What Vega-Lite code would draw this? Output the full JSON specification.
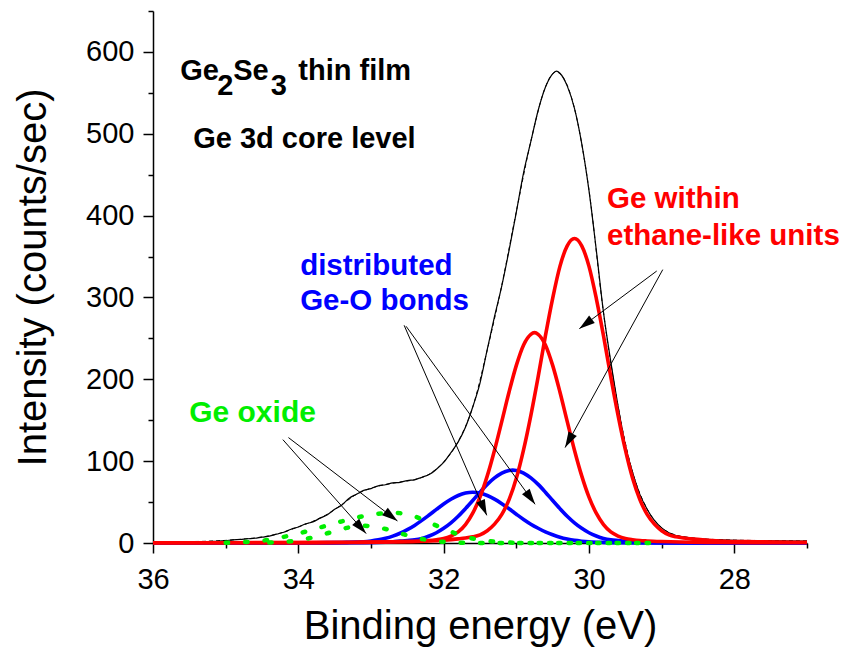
{
  "$schema": "https://vega.github.io/schema/vega-lite/v6.json",
  "width": 654,
  "height": 532,
  "autosize": {"type": "none"},
  "padding": {"left": 153, "top": 11, "right": 43, "bottom": 111},
  "background": "white",
  "config": {
    "view": {"stroke": null},
    "axis": {"grid": false, "domainColor": "black", "domainWidth": 1.5, "tickColor": "black", "tickWidth": 1.5, "labelColor": "black", "titleColor": "black", "labelFont": "Liberation Sans", "titleFont": "Liberation Sans", "titleFontWeight": "normal", "labelFlush": false, "labelOverlap": false}
  },
  "datasets": {
    "curves": [
      {"s": "R1", "E": 36, "I": 0.3}, {"s": "R1", "E": 34, "I": 0.5}, {"s": "R1", "E": 33.2, "I": 1}, {"s": "R1", "E": 32.7, "I": 1.5}, {"s": "R1", "E": 32.2, "I": 2.5}, {"s": "R1", "E": 32.0, "I": 3.5}, {"s": "R1", "E": 31.8, "I": 5}, {"s": "R1", "E": 31.7, "I": 6}, {"s": "R1", "E": 31.6, "I": 7.5}, {"s": "R1", "E": 31.5, "I": 10}, {"s": "R1", "E": 31.4, "I": 15}, {"s": "R1", "E": 31.3, "I": 23}, {"s": "R1", "E": 31.2, "I": 35}, {"s": "R1", "E": 31.1, "I": 53}, {"s": "R1", "E": 31.0, "I": 79}, {"s": "R1", "E": 30.9, "I": 114}, {"s": "R1", "E": 30.8, "I": 156}, {"s": "R1", "E": 30.7, "I": 203}, {"s": "R1", "E": 30.6, "I": 253}, {"s": "R1", "E": 30.5, "I": 299}, {"s": "R1", "E": 30.4, "I": 338}, {"s": "R1", "E": 30.3, "I": 363}, {"s": "R1", "E": 30.2, "I": 372}, {"s": "R1", "E": 30.1, "I": 363}, {"s": "R1", "E": 30.0, "I": 338}, {"s": "R1", "E": 29.9, "I": 299}, {"s": "R1", "E": 29.8, "I": 253}, {"s": "R1", "E": 29.7, "I": 203}, {"s": "R1", "E": 29.6, "I": 156}, {"s": "R1", "E": 29.5, "I": 114}, {"s": "R1", "E": 29.4, "I": 79}, {"s": "R1", "E": 29.3, "I": 53}, {"s": "R1", "E": 29.2, "I": 35}, {"s": "R1", "E": 29.1, "I": 23}, {"s": "R1", "E": 29.0, "I": 15}, {"s": "R1", "E": 28.9, "I": 10}, {"s": "R1", "E": 28.8, "I": 7.5}, {"s": "R1", "E": 28.7, "I": 6}, {"s": "R1", "E": 28.6, "I": 5}, {"s": "R1", "E": 28.4, "I": 3.5}, {"s": "R1", "E": 28.2, "I": 2.5}, {"s": "R1", "E": 27.7, "I": 1.5}, {"s": "R1", "E": 27.2, "I": 1}, {"s": "R1", "E": 27, "I": 0.9},

      {"s": "R2", "E": 36, "I": 0.2}, {"s": "R2", "E": 33.75, "I": 0.4}, {"s": "R2", "E": 33.25, "I": 0.7}, {"s": "R2", "E": 32.75, "I": 1.2}, {"s": "R2", "E": 32.5, "I": 1.8}, {"s": "R2", "E": 32.3, "I": 2.5}, {"s": "R2", "E": 32.2, "I": 3}, {"s": "R2", "E": 32.1, "I": 4}, {"s": "R2", "E": 32.0, "I": 5.5}, {"s": "R2", "E": 31.9, "I": 8.5}, {"s": "R2", "E": 31.8, "I": 13.5}, {"s": "R2", "E": 31.7, "I": 22.4}, {"s": "R2", "E": 31.6, "I": 36.4}, {"s": "R2", "E": 31.5, "I": 56}, {"s": "R2", "E": 31.4, "I": 82}, {"s": "R2", "E": 31.3, "I": 113.4}, {"s": "R2", "E": 31.2, "I": 148.6}, {"s": "R2", "E": 31.1, "I": 184.5}, {"s": "R2", "E": 31.0, "I": 217}, {"s": "R2", "E": 30.9, "I": 242}, {"s": "R2", "E": 30.8, "I": 255}, {"s": "R2", "E": 30.75, "I": 257}, {"s": "R2", "E": 30.7, "I": 255}, {"s": "R2", "E": 30.6, "I": 242}, {"s": "R2", "E": 30.5, "I": 217}, {"s": "R2", "E": 30.4, "I": 184.5}, {"s": "R2", "E": 30.3, "I": 148.6}, {"s": "R2", "E": 30.2, "I": 113.4}, {"s": "R2", "E": 30.1, "I": 82}, {"s": "R2", "E": 30.0, "I": 56}, {"s": "R2", "E": 29.9, "I": 36.4}, {"s": "R2", "E": 29.8, "I": 22.4}, {"s": "R2", "E": 29.7, "I": 13.5}, {"s": "R2", "E": 29.6, "I": 8.5}, {"s": "R2", "E": 29.5, "I": 5.5}, {"s": "R2", "E": 29.4, "I": 4}, {"s": "R2", "E": 29.3, "I": 3}, {"s": "R2", "E": 29.2, "I": 2.5}, {"s": "R2", "E": 29.0, "I": 1.8}, {"s": "R2", "E": 28.75, "I": 1.2}, {"s": "R2", "E": 28.25, "I": 0.7}, {"s": "R2", "E": 27.75, "I": 0.4}, {"s": "R2", "E": 27, "I": 0.3},

      {"s": "B1", "E": 36, "I": 0}, {"s": "B1", "E": 33.6, "I": 0.2}, {"s": "B1", "E": 33.05, "I": 0.5}, {"s": "B1", "E": 32.8, "I": 1.1}, {"s": "B1", "E": 32.7, "I": 1.6}, {"s": "B1", "E": 32.6, "I": 2.3}, {"s": "B1", "E": 32.5, "I": 3}, {"s": "B1", "E": 32.4, "I": 3.8}, {"s": "B1", "E": 32.3, "I": 5.5}, {"s": "B1", "E": 32.2, "I": 8.5}, {"s": "B1", "E": 32.1, "I": 12.5}, {"s": "B1", "E": 32.0, "I": 17.9}, {"s": "B1", "E": 31.9, "I": 24.6}, {"s": "B1", "E": 31.8, "I": 32.7}, {"s": "B1", "E": 31.7, "I": 42}, {"s": "B1", "E": 31.6, "I": 51.9}, {"s": "B1", "E": 31.5, "I": 62.1}, {"s": "B1", "E": 31.4, "I": 71.6}, {"s": "B1", "E": 31.3, "I": 79.6}, {"s": "B1", "E": 31.2, "I": 85.5}, {"s": "B1", "E": 31.1, "I": 88.6}, {"s": "B1", "E": 31.05, "I": 89}, {"s": "B1", "E": 31.0, "I": 88.6}, {"s": "B1", "E": 30.9, "I": 85.5}, {"s": "B1", "E": 30.8, "I": 79.6}, {"s": "B1", "E": 30.7, "I": 71.6}, {"s": "B1", "E": 30.6, "I": 62.1}, {"s": "B1", "E": 30.5, "I": 51.9}, {"s": "B1", "E": 30.4, "I": 42}, {"s": "B1", "E": 30.3, "I": 32.7}, {"s": "B1", "E": 30.2, "I": 24.6}, {"s": "B1", "E": 30.1, "I": 17.9}, {"s": "B1", "E": 30.0, "I": 12.5}, {"s": "B1", "E": 29.9, "I": 8.5}, {"s": "B1", "E": 29.8, "I": 5.5}, {"s": "B1", "E": 29.7, "I": 3.8}, {"s": "B1", "E": 29.6, "I": 3}, {"s": "B1", "E": 29.5, "I": 2.3}, {"s": "B1", "E": 29.4, "I": 1.6}, {"s": "B1", "E": 29.3, "I": 1.1}, {"s": "B1", "E": 29.05, "I": 0.5}, {"s": "B1", "E": 28.5, "I": 0.2}, {"s": "B1", "E": 27, "I": 0},

      {"s": "B2", "E": 36, "I": 0}, {"s": "B2", "E": 34.2, "I": 0.1}, {"s": "B2", "E": 33.6, "I": 0.4}, {"s": "B2", "E": 33.4, "I": 0.6}, {"s": "B2", "E": 33.3, "I": 0.9}, {"s": "B2", "E": 33.2, "I": 1.2}, {"s": "B2", "E": 33.1, "I": 1.5}, {"s": "B2", "E": 33.0, "I": 2.4}, {"s": "B2", "E": 32.9, "I": 3.8}, {"s": "B2", "E": 32.8, "I": 5.7}, {"s": "B2", "E": 32.7, "I": 8.4}, {"s": "B2", "E": 32.6, "I": 11.9}, {"s": "B2", "E": 32.5, "I": 16.3}, {"s": "B2", "E": 32.4, "I": 21.5}, {"s": "B2", "E": 32.3, "I": 27.6}, {"s": "B2", "E": 32.2, "I": 34.2}, {"s": "B2", "E": 32.1, "I": 41}, {"s": "B2", "E": 32.0, "I": 47.6}, {"s": "B2", "E": 31.9, "I": 53.4}, {"s": "B2", "E": 31.8, "I": 58}, {"s": "B2", "E": 31.7, "I": 61}, {"s": "B2", "E": 31.6, "I": 62}, {"s": "B2", "E": 31.5, "I": 61}, {"s": "B2", "E": 31.4, "I": 58}, {"s": "B2", "E": 31.3, "I": 53.6}, {"s": "B2", "E": 31.2, "I": 48}, {"s": "B2", "E": 31.1, "I": 41.8}, {"s": "B2", "E": 31.0, "I": 35.2}, {"s": "B2", "E": 30.9, "I": 28.8}, {"s": "B2", "E": 30.8, "I": 23}, {"s": "B2", "E": 30.7, "I": 18}, {"s": "B2", "E": 30.6, "I": 13.5}, {"s": "B2", "E": 30.5, "I": 10}, {"s": "B2", "E": 30.4, "I": 7}, {"s": "B2", "E": 30.3, "I": 4.8}, {"s": "B2", "E": 30.2, "I": 3.2}, {"s": "B2", "E": 30.1, "I": 2.2}, {"s": "B2", "E": 30.0, "I": 1.5}, {"s": "B2", "E": 29.8, "I": 0.8}, {"s": "B2", "E": 29.6, "I": 0.4}, {"s": "B2", "E": 29.0, "I": 0.1}, {"s": "B2", "E": 27, "I": 0},

      {"s": "G1", "E": 35.0, "I": 0.3}, {"s": "G1", "E": 34.8, "I": 0.8}, {"s": "G1", "E": 34.6, "I": 2}, {"s": "G1", "E": 34.4, "I": 4}, {"s": "G1", "E": 34.2, "I": 7.5}, {"s": "G1", "E": 34.0, "I": 11.5}, {"s": "G1", "E": 33.8, "I": 16.5}, {"s": "G1", "E": 33.6, "I": 21.5}, {"s": "G1", "E": 33.4, "I": 26.5}, {"s": "G1", "E": 33.2, "I": 31}, {"s": "G1", "E": 33.0, "I": 34.5}, {"s": "G1", "E": 32.8, "I": 36.5}, {"s": "G1", "E": 32.7, "I": 37}, {"s": "G1", "E": 32.6, "I": 36.5}, {"s": "G1", "E": 32.4, "I": 32.5}, {"s": "G1", "E": 32.2, "I": 25}, {"s": "G1", "E": 32.0, "I": 17.5}, {"s": "G1", "E": 31.8, "I": 10.5}, {"s": "G1", "E": 31.6, "I": 5.5}, {"s": "G1", "E": 31.4, "I": 2.5}, {"s": "G1", "E": 31.2, "I": 1}, {"s": "G1", "E": 31.0, "I": 0.3}, {"s": "G1", "E": 30.8, "I": 0}, {"s": "G1", "E": 29.1, "I": 0},

      {"s": "G2", "E": 34.4, "I": 0.5}, {"s": "G2", "E": 34.2, "I": 1.3}, {"s": "G2", "E": 34.0, "I": 3.4}, {"s": "G2", "E": 33.8, "I": 6.9}, {"s": "G2", "E": 33.6, "I": 11.9}, {"s": "G2", "E": 33.4, "I": 17.1}, {"s": "G2", "E": 33.2, "I": 20.5}, {"s": "G2", "E": 33.1, "I": 21}, {"s": "G2", "E": 33.0, "I": 20.5}, {"s": "G2", "E": 32.8, "I": 17.1}, {"s": "G2", "E": 32.6, "I": 11.9}, {"s": "G2", "E": 32.4, "I": 6.9}, {"s": "G2", "E": 32.2, "I": 3.4}, {"s": "G2", "E": 32.0, "I": 1.4}, {"s": "G2", "E": 31.8, "I": 0.5}, {"s": "G2", "E": 31.5, "I": 0}, {"s": "G2", "E": 29.1, "I": 0},

      {"s": "meas", "E": 36.0, "I": 1.5}, {"s": "meas", "E": 35.8, "I": 1.2}, {"s": "meas", "E": 35.6, "I": 1.6}, {"s": "meas", "E": 35.4, "I": 1.4}, {"s": "meas", "E": 35.2, "I": 2.0}, {"s": "meas", "E": 35.1, "I": 2.4}, {"s": "meas", "E": 35.0, "I": 3.0}, {"s": "meas", "E": 34.9, "I": 3.8}, {"s": "meas", "E": 34.8, "I": 4.3}, {"s": "meas", "E": 34.7, "I": 5.2}, {"s": "meas", "E": 34.6, "I": 5.8}, {"s": "meas", "E": 34.5, "I": 7.2}, {"s": "meas", "E": 34.4, "I": 8.3}, {"s": "meas", "E": 34.3, "I": 10.8}, {"s": "meas", "E": 34.2, "I": 13.2}, {"s": "meas", "E": 34.1, "I": 16.8}, {"s": "meas", "E": 34.0, "I": 19.6}, {"s": "meas", "E": 33.9, "I": 23.4}, {"s": "meas", "E": 33.8, "I": 25.8}, {"s": "meas", "E": 33.7, "I": 30.4}, {"s": "meas", "E": 33.6, "I": 34.6}, {"s": "meas", "E": 33.5, "I": 41.2}, {"s": "meas", "E": 33.4, "I": 46.5}, {"s": "meas", "E": 33.3, "I": 54.8}, {"s": "meas", "E": 33.2, "I": 59.6}, {"s": "meas", "E": 33.1, "I": 64.3}, {"s": "meas", "E": 33.0, "I": 66.5}, {"s": "meas", "E": 32.9, "I": 69.8}, {"s": "meas", "E": 32.8, "I": 71.2}, {"s": "meas", "E": 32.7, "I": 73.4}, {"s": "meas", "E": 32.6, "I": 74.1}, {"s": "meas", "E": 32.5, "I": 76.3}, {"s": "meas", "E": 32.4, "I": 77.2}, {"s": "meas", "E": 32.3, "I": 80.4}, {"s": "meas", "E": 32.2, "I": 83.6}, {"s": "meas", "E": 32.1, "I": 90.2}, {"s": "meas", "E": 32.0, "I": 98.5}, {"s": "meas", "E": 31.9, "I": 110.4}, {"s": "meas", "E": 31.8, "I": 123.6}, {"s": "meas", "E": 31.7, "I": 141.5}, {"s": "meas", "E": 31.6, "I": 166.2}, {"s": "meas", "E": 31.5, "I": 195.4}, {"s": "meas", "E": 31.4, "I": 236.5}, {"s": "meas", "E": 31.3, "I": 276.8}, {"s": "meas", "E": 31.2, "I": 314.2}, {"s": "meas", "E": 31.1, "I": 357.6}, {"s": "meas", "E": 31.0, "I": 404.3}, {"s": "meas", "E": 30.9, "I": 452.5}, {"s": "meas", "E": 30.8, "I": 490.6}, {"s": "meas", "E": 30.7, "I": 528.4}, {"s": "meas", "E": 30.6, "I": 556.8}, {"s": "meas", "E": 30.5, "I": 573.2}, {"s": "meas", "E": 30.45, "I": 576.5}, {"s": "meas", "E": 30.4, "I": 574.0}, {"s": "meas", "E": 30.3, "I": 558.5}, {"s": "meas", "E": 30.2, "I": 531.0}, {"s": "meas", "E": 30.1, "I": 488.0}, {"s": "meas", "E": 30.0, "I": 430.5}, {"s": "meas", "E": 29.9, "I": 358.2}, {"s": "meas", "E": 29.8, "I": 281.4}, {"s": "meas", "E": 29.7, "I": 221.5}, {"s": "meas", "E": 29.6, "I": 167.3}, {"s": "meas", "E": 29.5, "I": 119.6}, {"s": "meas", "E": 29.4, "I": 86.2}, {"s": "meas", "E": 29.3, "I": 59.4}, {"s": "meas", "E": 29.2, "I": 41.3}, {"s": "meas", "E": 29.1, "I": 27.6}, {"s": "meas", "E": 29.0, "I": 18.5}, {"s": "meas", "E": 28.9, "I": 12.6}, {"s": "meas", "E": 28.8, "I": 9.2}, {"s": "meas", "E": 28.7, "I": 7.4}, {"s": "meas", "E": 28.6, "I": 6.1}, {"s": "meas", "E": 28.4, "I": 4.6}, {"s": "meas", "E": 28.2, "I": 3.8}, {"s": "meas", "E": 28.0, "I": 3.2}, {"s": "meas", "E": 27.5, "I": 2.6}, {"s": "meas", "E": 27.0, "I": 2.2},

      {"s": "fit", "E": 36, "I": 1.8}, {"s": "fit", "E": 35.5, "I": 1.8}, {"s": "fit", "E": 35.2, "I": 2.3}, {"s": "fit", "E": 35.0, "I": 3.2}, {"s": "fit", "E": 34.8, "I": 4.6}, {"s": "fit", "E": 34.6, "I": 6.2}, {"s": "fit", "E": 34.4, "I": 8.8}, {"s": "fit", "E": 34.2, "I": 13.3}, {"s": "fit", "E": 34.0, "I": 19.8}, {"s": "fit", "E": 33.8, "I": 26.5}, {"s": "fit", "E": 33.6, "I": 35.2}, {"s": "fit", "E": 33.4, "I": 47}, {"s": "fit", "E": 33.2, "I": 59.5}, {"s": "fit", "E": 33.0, "I": 67}, {"s": "fit", "E": 32.8, "I": 71.5}, {"s": "fit", "E": 32.6, "I": 74.5}, {"s": "fit", "E": 32.4, "I": 77.5}, {"s": "fit", "E": 32.2, "I": 84}, {"s": "fit", "E": 32.0, "I": 99}, {"s": "fit", "E": 31.8, "I": 124}, {"s": "fit", "E": 31.6, "I": 166}, {"s": "fit", "E": 31.4, "I": 236}, {"s": "fit", "E": 31.2, "I": 315}, {"s": "fit", "E": 31.0, "I": 405}, {"s": "fit", "E": 30.8, "I": 491}, {"s": "fit", "E": 30.6, "I": 557}, {"s": "fit", "E": 30.5, "I": 573.5}, {"s": "fit", "E": 30.45, "I": 575.5}, {"s": "fit", "E": 30.4, "I": 573.5}, {"s": "fit", "E": 30.2, "I": 531}, {"s": "fit", "E": 30.0, "I": 431}, {"s": "fit", "E": 29.8, "I": 281}, {"s": "fit", "E": 29.6, "I": 167}, {"s": "fit", "E": 29.4, "I": 86.5}, {"s": "fit", "E": 29.2, "I": 41.5}, {"s": "fit", "E": 29.0, "I": 18.7}, {"s": "fit", "E": 28.8, "I": 9.5}, {"s": "fit", "E": 28.6, "I": 6.4}, {"s": "fit", "E": 28.4, "I": 4.9}, {"s": "fit", "E": 28.0, "I": 3.5}, {"s": "fit", "E": 27.5, "I": 2.9}, {"s": "fit", "E": 27, "I": 2.5}
    ],
    "arrows": [
      {"E0": 34.213, "I0": 126.3, "E": 33.067, "I": 11.5},
      {"E0": 34.136, "I0": 128.8, "E": 32.636, "I": 26.9},
      {"E0": 32.544, "I0": 266, "E": 31.407, "I": 33.8},
      {"E0": 32.517, "I0": 264.8, "E": 30.742, "I": 47.3},
      {"E0": 29.068, "I0": 332.3, "E": 30.133, "I": 261.9},
      {"E0": 28.985, "I0": 334, "E": 30.329, "I": 116.6}
    ],
    "labels": [
      {"g": "black", "t": "Ge", "E": 35.626, "I": 565.3},
      {"g": "black", "t": "2", "E": 35.117, "I": 547},
      {"g": "black", "t": "Se", "E": 34.897, "I": 565.3},
      {"g": "black", "t": "3", "E": 34.38, "I": 547},
      {"g": "black", "t": "thin film", "E": 34.0, "I": 565.3},
      {"g": "black", "t": "Ge 3d core level", "E": 35.447, "I": 482.2},
      {"g": "green", "t": "Ge oxide", "E": 35.502, "I": 147.8},
      {"g": "blue", "t": "distributed", "E": 33.975, "I": 328},
      {"g": "blue", "t": "Ge-O bonds", "E": 33.975, "I": 285},
      {"g": "red", "t": "Ge within", "E": 29.752, "I": 408.9},
      {"g": "red", "t": "ethane-like units", "E": 29.752, "I": 363.7}
    ]
  },
  "encoding": {
    "x": {"field": "E", "type": "quantitative", "scale": {"domain": [27, 36], "reverse": true, "nice": false, "zero": false},
      "axis": {"title": "Binding energy (eV)", "values": [27, 28, 29, 30, 31, 32, 33, 34, 35, 36], "labelExpr": "datum.value % 2 === 0 ? datum.label : ''", "labelFontSize": 29, "labelPadding": 12, "labelBaseline": "top", "tickSize": {"condition": {"test": "datum.value % 2 === 0", "value": 10}, "value": 5}, "titleFontSize": 40, "titleX": 327, "titleY": 95, "titleAlign": "center", "titleBaseline": "alphabetic"}},
    "y": {"field": "I", "type": "quantitative", "scale": {"domain": [0, 650], "nice": false, "zero": false},
      "axis": {"title": "Intensity (counts/sec)", "values": [0, 50, 100, 150, 200, 250, 300, 350, 400, 450, 500, 550, 600, 650], "labelExpr": "datum.value % 100 === 0 ? datum.label : ''", "labelFontSize": 29, "labelPadding": 9, "tickSize": {"condition": {"test": "datum.value % 100 === 0", "value": 10}, "value": 5}, "titleFontSize": 40, "titleX": -108, "titleY": 266, "titleAlign": "center", "titleBaseline": "alphabetic", "titleAngle": -90}}
  },
  "layer": [
    {"data": {"name": "curves"}, "transform": [{"filter": "datum.s === 'fit'"}], "mark": {"type": "line", "color": "black", "strokeWidth": 1, "strokeDash": [4, 3], "interpolate": "monotone"}},
    {"data": {"name": "curves"}, "transform": [{"filter": "datum.s === 'meas'"}], "mark": {"type": "line", "color": "black", "strokeWidth": 1.2, "interpolate": "monotone"}},
    {"data": {"name": "curves"}, "transform": [{"filter": "datum.s === 'B1' || datum.s === 'B2'"}], "mark": {"type": "line", "color": "#0000FF", "strokeWidth": 3.6, "interpolate": "monotone"}, "encoding": {"detail": {"field": "s"}}},
    {"data": {"name": "curves"}, "transform": [{"filter": "datum.s === 'R1' || datum.s === 'R2'"}], "mark": {"type": "line", "color": "#FF0000", "strokeWidth": 3.6, "interpolate": "monotone"}, "encoding": {"detail": {"field": "s"}}},
    {"data": {"name": "curves"}, "transform": [{"filter": "datum.s === 'G1' || datum.s === 'G2'"}], "mark": {"type": "line", "color": "#00EE00", "strokeWidth": 4.5, "strokeCap": "round", "strokeDash": [2.5, 17], "interpolate": "monotone"}, "encoding": {"detail": {"field": "s"}}},
    {"data": {"name": "arrows"}, "mark": {"type": "rule", "color": "black", "strokeWidth": 1}, "encoding": {"x2": {"field": "E0"}, "y2": {"field": "I0"}}},
    {"data": {"name": "arrows"}, "mark": {"type": "point", "filled": true, "color": "black", "opacity": 1, "size": 110, "shape": "M0,0L-0.9,3L0.9,3Z", "angle": {"expr": "atan2(scale('x', datum.E) - scale('x', datum.E0), scale('y', datum.I0) - scale('y', datum.I)) * 180 / PI"}}},
    {"data": {"name": "labels"}, "transform": [{"filter": "datum.g === 'black'"}], "mark": {"type": "text", "color": "black", "font": "Liberation Sans", "fontWeight": "bold", "fontSize": 29, "align": "left", "baseline": "alphabetic"}, "encoding": {"text": {"field": "t"}}},
    {"data": {"name": "labels"}, "transform": [{"filter": "datum.g === 'green'"}], "mark": {"type": "text", "color": "#00EE00", "font": "Liberation Sans", "fontWeight": "bold", "fontSize": 30, "align": "left", "baseline": "alphabetic"}, "encoding": {"text": {"field": "t"}}},
    {"data": {"name": "labels"}, "transform": [{"filter": "datum.g === 'blue'"}], "mark": {"type": "text", "color": "#0000FF", "font": "Liberation Sans", "fontWeight": "bold", "fontSize": 29.5, "align": "left", "baseline": "alphabetic"}, "encoding": {"text": {"field": "t"}}},
    {"data": {"name": "labels"}, "transform": [{"filter": "datum.g === 'red'"}], "mark": {"type": "text", "color": "#FF0000", "font": "Liberation Sans", "fontWeight": "bold", "fontSize": 29.5, "align": "left", "baseline": "alphabetic"}, "encoding": {"text": {"field": "t"}}}
  ]
}
